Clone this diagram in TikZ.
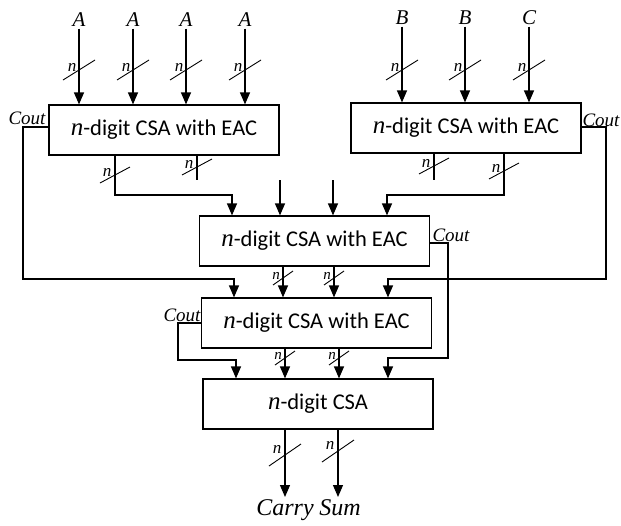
\documentclass[tikz,border=0pt]{standalone}
\usepackage{fontspec}
\newfontfamily\carlito{Carlito}
\newfontfamily\serifit{Liberation Serif}
\usetikzlibrary{arrows.meta}
\begin{document}
\begin{tikzpicture}[x=1pt,y=-1pt,
  line width=1.2pt,
  arr/.style={-{Triangle[width=10pt,length=12pt]}},
  box/.style={draw, minimum width=230pt, minimum height=50pt, inner sep=0pt,
    font=\carlito\fontsize{22.5}{26}\selectfont},
  lbl/.style={inner sep=1pt, font=\serifit\itshape\fontsize{21}{23}\selectfont},
  coutlbl/.style={inner sep=1pt, font=\serifit\itshape\fontsize{19}{21}\selectfont},
  biglbl/.style={inner sep=1pt, font=\serifit\itshape\fontsize{24}{26}\selectfont},
  nlbl/.style={inner sep=0pt, font=\serifit\itshape\fontsize{17}{18}\selectfont},
  snlbl/.style={inner sep=0pt, font=\serifit\itshape\fontsize{15}{16}\selectfont},
  slashline/.style={line width=0.9pt},
  bigbus/.pic={\draw[slashline] (-16,10) -- (16,-10); \node[nlbl] at (-7,-3) {n};},
  midbus/.pic={\draw[slashline] (-15,8) -- (15,-8); \node[nlbl] at (-8,-3) {n};},
  smallbus/.pic={\draw[slashline] (-10,7) -- (10,-7); \node[snlbl] at (-7,-2) {n};},
  lowbus/.pic={\draw[slashline] (-16,11) -- (16,-11); \node[nlbl] at (-8,-6) {n};}
]
\useasboundingbox (0,0) rectangle (621,525);

% boxes
\node[box] (box1) at (164,130) {{\serifit\itshape\fontsize{25}{26}\selectfont n}-digit CSA with EAC};
\node[box] (box2) at (466,128) {{\serifit\itshape\fontsize{25}{26}\selectfont n}-digit CSA with EAC};
\node[box] (box3) at (314.5,241) {{\serifit\itshape\fontsize{25}{26}\selectfont n}-digit CSA with EAC};
\node[box] (box4) at (316.5,323) {{\serifit\itshape\fontsize{25}{26}\selectfont n}-digit CSA with EAC};
\node[box] (box5) at (318,404) {{\serifit\itshape\fontsize{25}{26}\selectfont n}-digit CSA};

% inputs
\node[lbl] (a1) at (79,20) {A};
\node[lbl] (a2) at (133,20) {A};
\node[lbl] (a3) at (186,20) {A};
\node[lbl] (a4) at (245,20) {A};
\node[lbl] (b1) at (402,18) {B};
\node[lbl] (b2) at (465,18) {B};
\node[lbl] (c1) at (529,18) {C};
\foreach \n in {a1,a2,a3,a4}{\draw[arr] (\n.south) -- (\n |- box1.north);}
\foreach \n in {b1,b2,c1}{\draw[arr] (\n.south) -- (\n |- box2.north);}
\foreach \x in {79,133,186,245,402,465,529}{\pic at (\x,70) {bigbus};}

% free input arrows to box3
\coordinate (t1) at (280,180);
\coordinate (t2) at (333,180);
\draw[arr] (t1) -- (t1 |- box3.north);
\draw[arr] (t2) -- (t2 |- box3.north);

% box1 outputs
\draw[arr] (box1.south -| 115,0) |- (232,195) -- (box3.north -| 232,0);
\draw (box1.south -| 197,0) -- (197,180);
\pic at (115,175) {midbus};
\pic at (197,167) {midbus};

% box2 outputs
\draw[arr] (box2.south -| 504,0) |- (387,195) -- (box3.north -| 387,0);
\draw (box2.south -| 434,0) -- (434,180);
\pic at (434,166) {midbus};
\pic at (504,171) {midbus};

% box3 -> box4
\draw[arr] (box3.south -| 283,0) -- (box4.north -| 283,0);
\draw[arr] (box3.south -| 334,0) -- (box4.north -| 334,0);
\pic at (283,278) {smallbus};
\pic at (334,278) {smallbus};

% box4 -> box5
\draw[arr] (box4.south -| 285,0) -- (box5.north -| 285,0);
\draw[arr] (box4.south -| 339,0) -- (box5.north -| 339,0);
\pic at (285,358) {smallbus};
\pic at (339,358) {smallbus};

% Couts
\node[coutlbl] (cout1) at (27,118) {Cout};
\node[coutlbl] (cout2) at (601,120) {Cout};
\node[coutlbl] (cout3) at (451,235) {Cout};
\node[coutlbl] (cout4) at (182,315) {Cout};
\draw[arr] (box1.west |- 0,127) -| (23,279) -| (box4.north -| 234,0);
\draw[arr] (box2.east |- 0,127) -| (606,279) -| (box4.north -| 388,0);
\draw[arr] (box3.east |- 0,243) -| (448,358) -| (box5.north -| 388,0);
\draw[arr] (box4.west |- 0,323) -| (178,360) -| (box5.north -| 236,0);

% outputs
\node[biglbl] (carry) at (285,510) {Carry};
\node[biglbl] (sum) at (340,508) {Sum};
\draw[arr] (box5.south -| carry) -- (carry |- 0,497);
\draw[arr] (box5.south -| 338,0) -- (338,497);
\pic at (285,455) {lowbus};
\pic at (338,451) {lowbus};
\end{tikzpicture}
\end{document}
